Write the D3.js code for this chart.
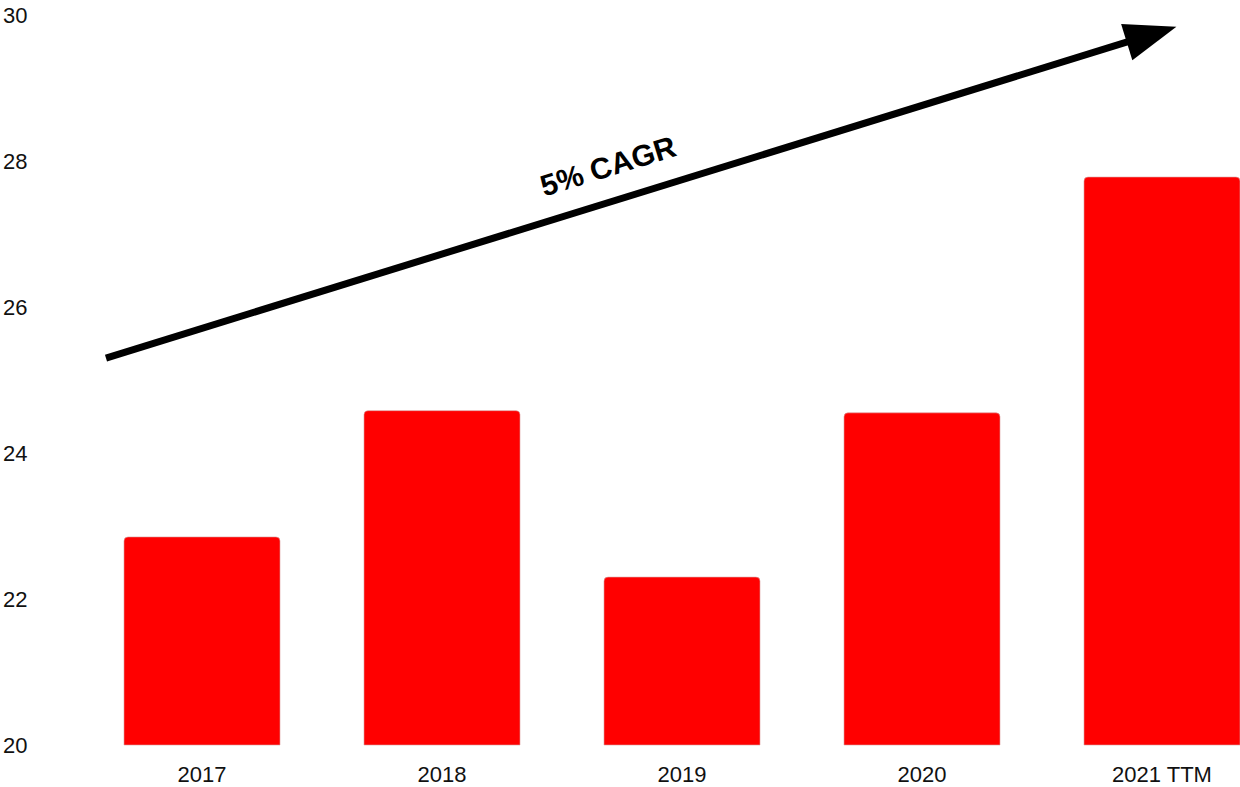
<!DOCTYPE html>
<html>
<head>
<meta charset="utf-8">
<script src="https://cdn.jsdelivr.net/npm/d3@7"></script>
<style>
  html, body { margin: 0; padding: 0; background: #fff; }
  svg { display: block; font-family: "Liberation Sans", Arial, sans-serif; }
</style>
</head>
<body>
<svg id="chart" width="1240" height="787"></svg>
<script>
// Yearly values
const categories = ["2017", "2018", "2019", "2020", "2021 TTM"];
const values = [22.85, 24.58, 22.30, 24.55, 27.78];
const yTicks = [20, 22, 24, 26, 28, 30];
const trendLabel = "5% CAGR";
// Trend arrow: [band index, value] for start and tip
const trendStart = [-0.4, 25.30];
const trendEnd = [4.06, 29.84];

const svg = d3.select("#chart");

const x = d3.scaleBand()
  .domain(categories)
  .range([82, 1282])
  .paddingInner(0.35)
  .paddingOuter(0.175);

const y = d3.scaleLinear().domain([20, 30]).range([745, 15]);

// index -> center position along the band scale
const xi = i => x(categories[0]) + x.bandwidth() / 2 + i * x.step();

// bars with slightly rounded top corners
const r = 4;
svg.append("g").selectAll("path")
  .data(categories.map((c, i) => ({ c, v: values[i] })))
  .join("path")
  .attr("d", d => {
    const x0 = x(d.c), x1 = x0 + x.bandwidth();
    const yt = y(d.v), yb = y(20);
    return `M${x0},${yb}V${yt + r}Q${x0},${yt} ${x0 + r},${yt}H${x1 - r}Q${x1},${yt} ${x1},${yt + r}V${yb}Z`;
  })
  .attr("fill", "#ff0000")
  .attr("stroke", "#d9a0a0")
  .attr("stroke-width", 0.6);

// y tick labels
svg.append("g").selectAll("text")
  .data(yTicks)
  .join("text")
  .attr("x", 3)
  .attr("y", d => y(d))
  .attr("dy", "0.35em")
  .attr("font-size", 22)
  .attr("fill", "#111")
  .text(d => d);

// x labels
svg.append("g").selectAll("text")
  .data(categories)
  .join("text")
  .attr("x", d => x(d) + x.bandwidth() / 2)
  .attr("y", 774)
  .attr("dy", "0.35em")
  .attr("text-anchor", "middle")
  .attr("font-size", 22)
  .attr("fill", "#111")
  .text(d => d);

// trend arrow
const sx = xi(trendStart[0]), sy = y(trendStart[1]);
const ex = xi(trendEnd[0]), ey = y(trendEnd[1]);
const ang = Math.atan2(ey - sy, ex - sx);
const headLen = 52, headHalf = 19;
const bx = ex - headLen * Math.cos(ang), by = ey - headLen * Math.sin(ang);
const nx = -Math.sin(ang), ny = Math.cos(ang);

svg.append("line")
  .attr("x1", sx).attr("y1", sy)
  .attr("x2", bx + 4 * Math.cos(ang)).attr("y2", by + 4 * Math.sin(ang))
  .attr("stroke", "#000")
  .attr("stroke-width", 7);

svg.append("path")
  .attr("d", d3.line()([
    [ex, ey],
    [bx + headHalf * nx, by + headHalf * ny],
    [bx - headHalf * nx, by - headHalf * ny]
  ]) + "Z")
  .attr("fill", "#000");

// trend label along the arrow
const deg = ang * 180 / Math.PI;
const tx = 608, ty = 166;
svg.append("text")
  .attr("transform", `translate(${tx},${ty}) rotate(${deg})`)
  .attr("text-anchor", "middle")
  .attr("dy", "0.35em")
  .attr("font-size", 30)
  .attr("font-weight", "bold")
  .attr("fill", "#000")
  .text(trendLabel);
</script>
</body>
</html>
